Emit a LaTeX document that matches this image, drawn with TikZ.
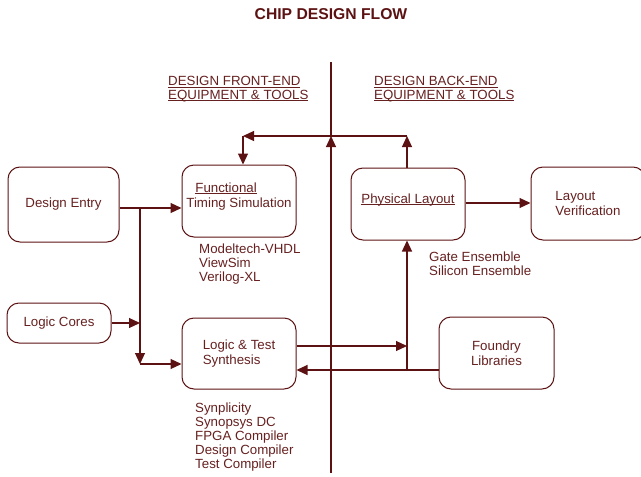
\documentclass[tikz,border=0pt]{standalone}
\usepackage{fontspec}
\setmainfont{Liberation Sans}
\usetikzlibrary{arrows.meta}

\definecolor{wine}{RGB}{92,18,18}
\definecolor{winetext}{RGB}{102,32,32}
\newcommand{\ulined}[1]{\underline{\smash{#1}}}

\tikzset{
  stage/.style={draw=wine, line width=1pt, rounded corners=12pt,
    minimum width=114pt, minimum height=72pt, inner sep=0pt,
    text=winetext, font=\fontsize{13.3}{15}\selectfont},
  toollist/.style={anchor=north west, align=left, inner sep=0pt,
    text=winetext, font=\fontsize{13.3}{14}\selectfont},
  flow/.style={draw=wine, line width=1.1pt, -{Triangle[length=11pt,width=10pt]}},
  divider/.style={draw=wine, line width=1.1pt},
}

\begin{document}
\begin{tikzpicture}[x=1pt, y=-1pt]
\useasboundingbox (0,0) rectangle (641,477);

% title and headings
\node (title) at (331,14) {\fontsize{15.7}{17}\selectfont\bfseries\color{wine}CHIP DESIGN FLOW};
\node[toollist, font=\fontsize{13.3}{13.5}\selectfont] (front) at (168,85.5)
  {\ulined{DESIGN FRONT-END}\\\ulined{EQUIPMENT \& TOOLS}};
\node[toollist, font=\fontsize{13.3}{13.5}\selectfont] (back) at (374,85.5)
  {\ulined{DESIGN BACK-END}\\\ulined{EQUIPMENT \& TOOLS}};

% boxes
\node[stage, minimum width=111pt, minimum height=75pt] (entry) at (63.5,204.5) {Design Entry};
\node[stage, align=left] (func) at (239,201) {\hspace*{9pt}\ulined{Functional}\\Timing Simulation};
\node[stage, minimum width=104pt, minimum height=40pt] (cores) at (59,323) {Logic Cores};
\node[stage, align=left, minimum height=71pt] (synth) at (239,353.5) {Logic \& Test\\Synthesis};
\node[stage] (phys) at (408,204) {\ulined{Physical Layout}};
\node[stage, align=left, minimum height=73pt] (verif) at (588,203.5) {Layout\\Verification};
\node[stage, align=center, minimum width=115pt] (foundry) at (496.5,353) {Foundry\\Libraries};

% tools
\node[toollist] (simtools) at (199,243.5) {Modeltech-VHDL\\ViewSim\\Verilog-XL};
\node[toollist] (pltools) at (429,252) {Gate Ensemble\\Silicon Ensemble};
\node[toollist] (syntools) at (195,402.5) {Synplicity\\Synopsys DC\\FPGA Compiler\\Design Compiler\\Test Compiler};

% junctions
\coordinate (j1) at (140,208);
\coordinate (j2) at (140,364);
\coordinate (j3) at (407,346);
\coordinate (j4) at (407,370);
\coordinate (j5) at (465,203);
\coordinate (mid) at (331,136);
\coordinate (fb) at (243,136);
\coordinate (divtop) at (331,62);
\coordinate (divbot) at (331,473);

% front end / back end split
\draw[divider] (divtop) -- (mid);
\draw[flow] (divbot) -- (mid);

% connectors
\draw[flow] (entry.east |- j1) -- (func.west |- j1);
\draw[flow] (j1) -- (j2);
\draw[flow] (j2) -- (synth.west |- j2);
\draw[flow] (cores.east) -- (cores.east -| j1);
\draw[flow] (synth.east |- j3) -- (j3);
\draw[flow] (foundry.west |- j4) -- (synth.east |- j4);
\draw[flow] (j4) -- (j4 |- phys.south);
\draw[flow] (phys.east |- j5) -- (verif.west |- j5);
\draw[flow] (j4 |- phys.north) -- (j4 |- mid);
\draw[flow] (j4 |- mid) -- (fb);
\draw[flow] (fb) -- (fb |- func.north);
\end{tikzpicture}
\end{document}
